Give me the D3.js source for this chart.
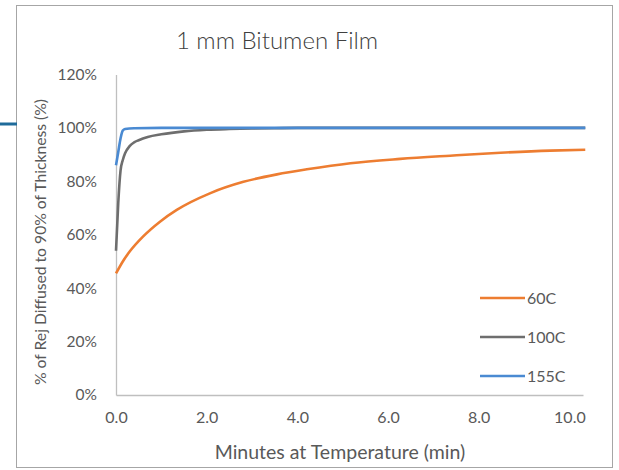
<!DOCTYPE html>
<html><head><meta charset="utf-8">
<script src="https://cdn.jsdelivr.net/npm/d3@7"></script>
<style>body{margin:0;background:#fff}svg{display:block}text{font-family:Lato,"Open Sans",sans-serif}</style>
</head><body><svg id="c" width="619" height="470"></svg>
<script>
const title = "1 mm Bitumen Film";
const xTitle = "Minutes at Temperature (min)";
const yTitle = "% of Rej Diffused to 90% of Thickness (%)";
const seriesNames = ["60C", "100C", "155C"];
const seriesColors = ["#ED7D31", "#6E6E6E", "#4A8AD2"];
const xTicks = [0, 2, 4, 6, 8, 10];
const yTicks = [0, 20, 40, 60, 80, 100, 120];

const t60 = [0, 0.15, 0.31, 0.6, 0.97, 1.34, 2.07, 2.81, 3.55, 4.21, 5.17, 6.27, 7.37, 8.48, 9.58, 10.35];
const v60 = [45.5, 50.0, 53.9, 59.4, 64.9, 69.3, 75.5, 79.8, 82.6, 84.5, 86.8, 88.4, 89.6, 90.7, 91.5, 91.8];
const t100 = [0, 0.05, 0.1, 0.15, 0.2, 0.3, 0.4, 0.5, 0.7, 1.0, 1.5, 2.0, 2.5, 3.0, 3.5, 4.0, 6.0, 8.0, 10.35];
const v100 = [54, 72, 84, 88, 90.5, 93.2, 94.6, 95.4, 96.6, 97.6, 98.7, 99.3, 99.6, 99.8, 99.9, 100, 100, 100, 100];
const t155 = [0, 0.05, 0.1, 0.15, 0.2, 0.4, 1.0, 4.0, 10.35];
const v155 = [86, 91, 96, 99, 99.6, 99.9, 100, 100, 100];

const svg = d3.select("#c");
svg.append("rect").attr("x",16.5).attr("y",5.5).attr("width",596).attr("height",462)
  .attr("fill","#fff").attr("stroke","#a6a6a6").attr("stroke-width",1);
svg.append("line").attr("x1",0).attr("x2",17).attr("y1",124).attr("y2",124)
  .attr("stroke","#1F6B9A").attr("stroke-width",3);

const x = d3.scaleLinear().domain([0, 10.3]).range([116, 583]);
const y = d3.scaleLinear().domain([0, 120]).range([395, 74.5]);

svg.append("text").attr("x",277).attr("y",49).attr("text-anchor","middle")
  .attr("font-size",24).attr("font-weight",300).attr("fill","#404040").text(title);

const xa = svg.append("g").attr("transform","translate(0,395)")
  .call(d3.axisBottom(x).tickValues(xTicks).tickFormat(d3.format(".1f")).tickSize(0).tickPadding(17));
xa.select(".domain").attr("stroke","#BFBFBF").attr("stroke-width",1.3);
xa.selectAll("text").attr("font-size",16).attr("fill","#595959").attr("font-family","Lato");

const ya = svg.append("g").attr("transform","translate(116,0)")
  .call(d3.axisLeft(y).tickValues(yTicks).tickFormat(d => d + "%").tickSize(0).tickPadding(19));
ya.select(".domain").attr("stroke","#BFBFBF").attr("stroke-width",1.3);
ya.selectAll("text").attr("font-size",15.5).attr("fill","#595959").attr("font-family","Lato");

svg.append("text").attr("x",340).attr("y",459).attr("text-anchor","middle")
  .attr("font-size",19.5).attr("fill","#595959").text(xTitle);
svg.append("text").attr("transform","translate(46,242) rotate(-90)").attr("text-anchor","middle")
  .attr("font-size",15.7).attr("fill","#595959").text(yTitle);

const series = [
  {name: seriesNames[0], t: t60, v: v60, c: seriesColors[0]},
  {name: seriesNames[1], t: t100, v: v100, c: seriesColors[1]},
  {name: seriesNames[2], t: t155, v: v155, c: seriesColors[2]}
];
const line = d3.line().x(d => x(d[0])).y(d => y(d[1])).curve(d3.curveMonotoneX);
series.forEach(s => {
  svg.append("path").datum(s.t.map((tt, i) => [tt, s.v[i]]))
    .attr("d", line).attr("fill","none").attr("stroke", s.c).attr("stroke-width",2.6)
    .attr("stroke-linejoin","round");
});

const lg = svg.append("g");
series.forEach((s, i) => {
  const ly = 298 + i * 39;
  lg.append("line").attr("x1",480).attr("x2",525).attr("y1",ly).attr("y2",ly)
    .attr("stroke", s.c).attr("stroke-width",2.6);
  lg.append("text").attr("x",527).attr("y",ly+5.5).attr("font-size",16).attr("fill","#595959").text(s.name);
});
</script></body></html>
